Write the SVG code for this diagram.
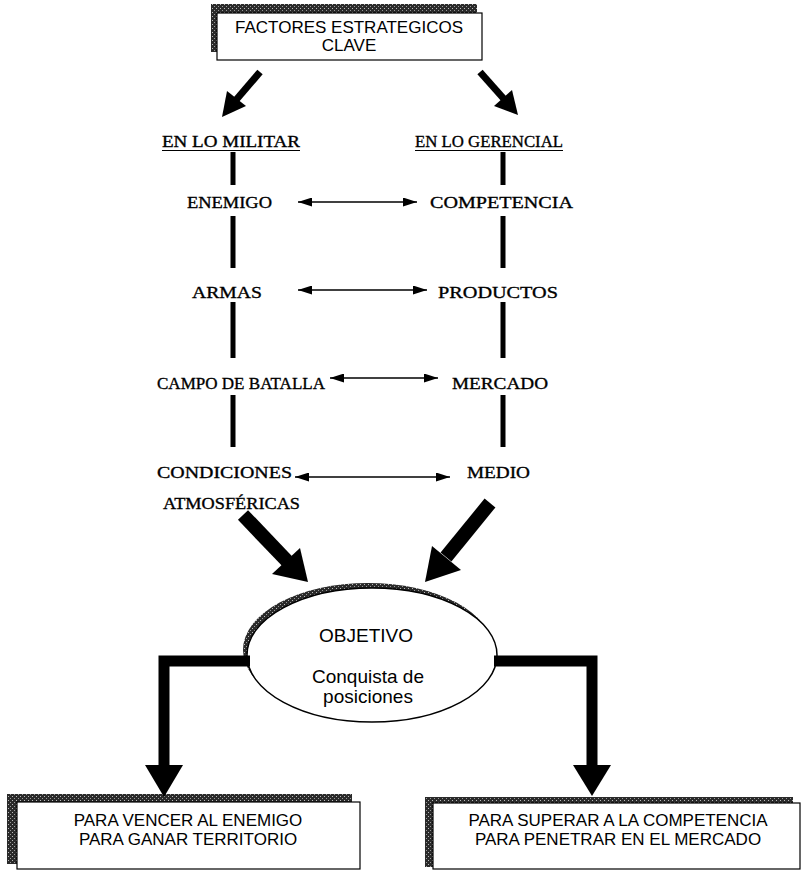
<svg xmlns="http://www.w3.org/2000/svg" width="802" height="873" viewBox="0 0 802 873">
  <defs>
    <!-- grainy dark fill used for the drop shadows -->
    <pattern id="grain" width="4" height="4" patternUnits="userSpaceOnUse">
      <rect width="4" height="4" fill="#2a2a2a"/>
      <rect x="0" y="0" width="1" height="1" fill="#bbb"/>
      <rect x="2" y="2" width="1" height="1" fill="#999"/>
    </pattern>
    <marker id="tri" viewBox="0 0 14 9" refX="14" refY="4.5" markerWidth="14" markerHeight="9" markerUnits="userSpaceOnUse" orient="auto-start-reverse">
      <path d="M0,0 L14,4.5 L0,9 z" fill="#000"/>
    </marker>
  </defs>
  <style>
    .sans { font-family: "Liberation Sans", Arial, sans-serif; fill: #000; }
    .serif { font-family: "Liberation Serif", "Times New Roman", serif; font-size: 17.5px; fill: #000; stroke: #000; stroke-width: 0.35; }
    .box { fill: #fff; stroke: #000; stroke-width: 1.2; }
    .shadow { fill: url(#grain); }
    .col { stroke: #000; stroke-width: 5; fill: none; }
    .dbl { stroke: #000; stroke-width: 1.5; fill: none; marker-start: url(#tri); marker-end: url(#tri); }
    .thick { stroke: #000; fill: none; }
  </style>
  <rect width="802" height="873" fill="#fff"/>

  <!-- top node -->
  <g id="factores">
    <rect class="shadow" x="211" y="4" width="266" height="48"/>
    <rect class="box" x="217" y="13" width="265" height="47"/>
    <text class="sans" x="349" y="33" font-size="17" text-anchor="middle">FACTORES ESTRATEGICOS</text>
    <text class="sans" x="349" y="51" font-size="17" text-anchor="middle">CLAVE</text>
  </g>

  <!-- column headings -->
  <g id="militar">
    <text class="serif" x="162" y="147" textLength="138" lengthAdjust="spacingAndGlyphs">EN LO MILITAR</text>
    <line x1="162" y1="150.5" x2="300" y2="150.5" stroke="#000" stroke-width="1"/>
  </g>
  <g id="gerencial">
    <text class="serif" x="415" y="147" textLength="148" lengthAdjust="spacingAndGlyphs">EN LO GERENCIAL</text>
    <line x1="415" y1="150.5" x2="563" y2="150.5" stroke="#000" stroke-width="1"/>
  </g>

  <!-- military factors -->
  <g id="enemigo"><text class="serif" x="187" y="208" textLength="85" lengthAdjust="spacingAndGlyphs">ENEMIGO</text></g>
  <g id="armas"><text class="serif" x="192" y="298" textLength="70" lengthAdjust="spacingAndGlyphs">ARMAS</text></g>
  <g id="campo"><text class="serif" x="157" y="389" textLength="168" lengthAdjust="spacingAndGlyphs">CAMPO DE BATALLA</text></g>
  <g id="condiciones">
    <text class="serif" x="157" y="478" textLength="135" lengthAdjust="spacingAndGlyphs">CONDICIONES</text>
    <text class="serif" x="163" y="509" textLength="137" lengthAdjust="spacingAndGlyphs">ATMOSFÉRICAS</text>
  </g>

  <!-- management factors -->
  <g id="competencia"><text class="serif" x="430" y="208" textLength="143" lengthAdjust="spacingAndGlyphs">COMPETENCIA</text></g>
  <g id="productos"><text class="serif" x="438" y="298" textLength="120" lengthAdjust="spacingAndGlyphs">PRODUCTOS</text></g>
  <g id="mercado"><text class="serif" x="452" y="389" textLength="96" lengthAdjust="spacingAndGlyphs">MERCADO</text></g>
  <g id="medio"><text class="serif" x="467" y="478" textLength="63" lengthAdjust="spacingAndGlyphs">MEDIO</text></g>

  <!-- goal -->
  <g id="objetivo">
    <ellipse cx="368" cy="650" rx="125" ry="67" fill="url(#grain)"/>
    <ellipse cx="372" cy="655" rx="125" ry="67" fill="#fff" stroke="#000" stroke-width="1.5"/>
    <text class="sans" x="366" y="642" font-size="19" text-anchor="middle">OBJETIVO</text>
    <text class="sans" x="368" y="683" font-size="19" text-anchor="middle">Conquista de</text>
    <text class="sans" x="368" y="703" font-size="19" text-anchor="middle">posiciones</text>
  </g>

  <!-- outcomes -->
  <g id="vencer">
    <rect class="shadow" x="7" y="794" width="345" height="70"/>
    <rect class="box" x="17" y="802" width="343" height="67"/>
    <text class="sans" x="188" y="826" font-size="17" text-anchor="middle">PARA VENCER AL ENEMIGO</text>
    <text class="sans" x="188" y="845" font-size="17" text-anchor="middle">PARA GANAR TERRITORIO</text>
  </g>
  <g id="superar">
    <rect class="shadow" x="425" y="797" width="368" height="70"/>
    <rect class="box" x="433" y="803" width="367" height="66"/>
    <text class="sans" x="618" y="826" font-size="17" text-anchor="middle">PARA SUPERAR A LA COMPETENCIA</text>
    <text class="sans" x="618" y="845" font-size="17" text-anchor="middle">PARA PENETRAR EN EL MERCADO</text>
  </g>

  <!-- connectors -->
  <g id="connectors">
    <!-- from the heading box down to each column -->
    <line class="thick" x1="260" y1="72" x2="236" y2="100" stroke-width="7"/>
    <polygon points="222,117 227,91 246,106"/>
    <line class="thick" x1="480" y1="72" x2="504" y2="99" stroke-width="7"/>
    <polygon points="518,115 494,106 512,90"/>

    <!-- column links -->
    <path class="col" d="M233,152 V185 M233,216 V268 M233,302 V358 M233,395 V447"/>
    <path class="col" d="M503,152 V185 M503,216 V268 M503,302 V358 M503,395 V447"/>

    <!-- equivalences -->
    <line class="dbl" x1="298" y1="202" x2="417" y2="202"/>
    <line class="dbl" x1="298" y1="290" x2="427" y2="290"/>
    <line class="dbl" x1="330" y1="378" x2="438" y2="378"/>
    <line class="dbl" x1="295" y1="477" x2="450" y2="477"/>

    <!-- into the goal -->
    <line class="thick" x1="243" y1="515" x2="287" y2="561" stroke-width="14"/>
    <polygon points="308,582 272,574 300,548"/>
    <line class="thick" x1="490" y1="503" x2="446" y2="557" stroke-width="14"/>
    <polygon points="425,582 432,546 461,570"/>

    <!-- out to the outcomes -->
    <path class="thick" d="M250,661 H164 V766" stroke-width="11"/>
    <polygon points="145,765 183,765 164,797"/>
    <path class="thick" d="M494,661 H592 V766" stroke-width="11"/>
    <polygon points="573,765 611,765 592,796"/>
  </g>
</svg>
